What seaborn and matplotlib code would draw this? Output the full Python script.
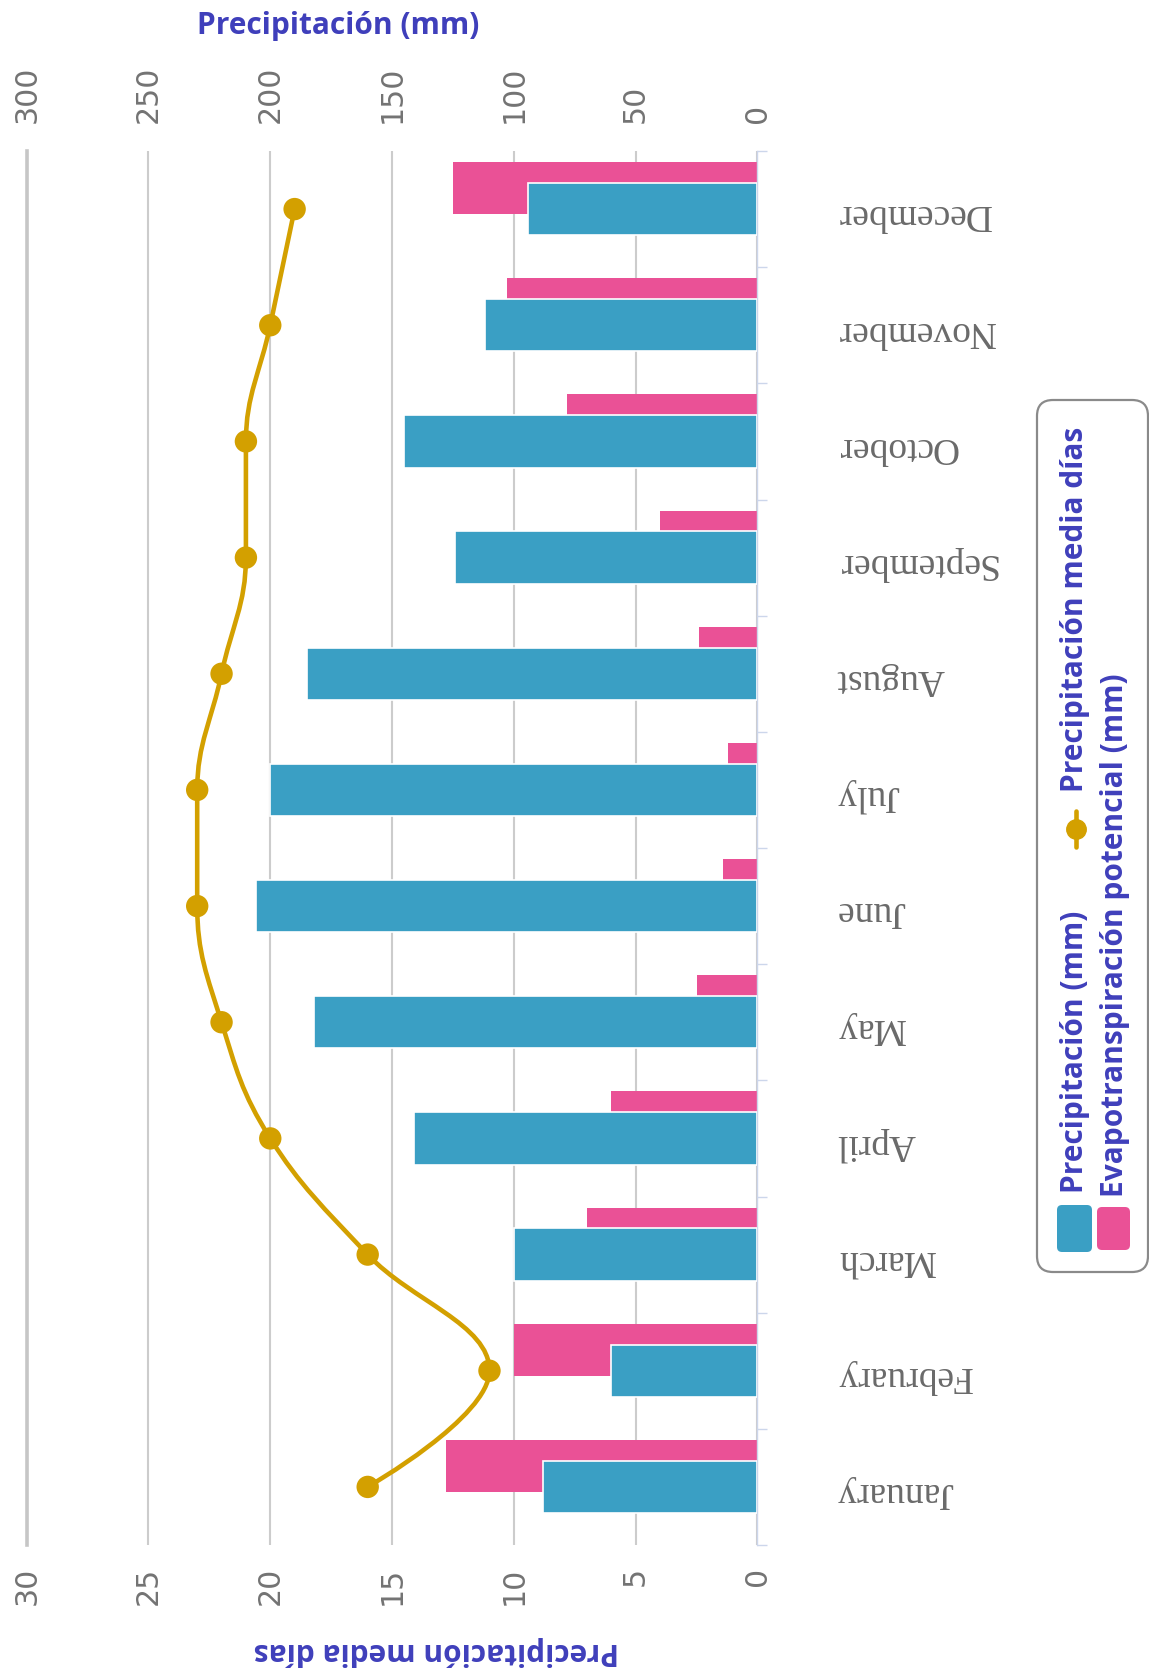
import numpy as np
import pandas as pd
import matplotlib
matplotlib.use("Agg")
import matplotlib.pyplot as plt
import matplotlib.transforms as mtransforms
from matplotlib.path import Path
from matplotlib.patches import PathPatch, FancyBboxPatch
import seaborn as sns

# ---- data -------------------------------------------------------------
months = ["January", "February", "March", "April", "May", "June",
          "July", "August", "September", "October", "November", "December"]
precip_mm = [88, 60, 100, 141, 182, 206, 200, 185, 124, 145, 112, 94]
evapo_mm = [128, 100, 70, 60, 25, 14, 12, 24, 40, 78, 103, 125]
rain_days = [16, 11, 16, 20, 22, 23, 23, 22, 21, 21, 20, 19]
mm_ticks = [0, 50, 100, 150, 200, 250, 300]
day_ticks = [0, 5, 10, 15, 20, 25, 30]

# ---- style ------------------------------------------------------------
BLUE = "#3a9fc4"
PINK = "#ea5196"
GOLD = "#d3a000"
TXT_BLUE = "#3f3fbb"
TICK_GREY = "#737373"
GRID = "#cccccc"

sns.set_theme(style="white")
plt.rcParams["font.family"] = ["DejaVu Sans"]

W, H = 1149, 1677
fig = plt.figure(figsize=(W / 100, H / 100), dpi=100)

# plot area in pixels: x 27..757, y 151..1545
ax = fig.add_axes([26.7 / W, 1 - 1545 / H, (757.4 - 26.7) / W, (1545 - 151) / H])
ax2 = ax.twiny()

df = pd.DataFrame({
    "month": months,
    "pos": np.arange(len(months)),
    "precip": precip_mm,
    "evapo": evapo_mm,
    "days": rain_days,
})

# evapotranspiration bars sit slightly above and behind the precipitation bars
sns.barplot(x=df["evapo"], y=df["pos"] + 0.18, orient="h", native_scale=True,
            width=0.45, color=PINK, saturation=1, errorbar=None,
            linewidth=0, ax=ax, zorder=2)
sns.barplot(x=df["precip"], y=df["pos"], orient="h", native_scale=True,
            width=0.45, color=BLUE, saturation=1, errorbar=None,
            edgecolor="white", linewidth=1.2, ax=ax, zorder=3)

ax.set_xlim(300, 0)
ax.set_ylim(-0.5, 11.5)
ax.set_xlabel("")
ax.set_ylabel("")

# mm axis on top
ax.xaxis.tick_top()
ax.set_xticks(mm_ticks)
ax.set_xticklabels([str(t) for t in mm_ticks], rotation=90,
                   fontsize=21.6, color=TICK_GREY)
ax.tick_params(axis="x", which="major", length=0, pad=20,
               top=True, bottom=False, labeltop=True, labelbottom=False)
ax.set_axisbelow(True)
ax.grid(axis="x", color=GRID, linewidth=1.5)
ax.grid(axis="y", visible=False)

# category boundary ticks on the right
ax.yaxis.tick_right()
ax.set_yticks(df["pos"])
ax.set_yticklabels([])
ax.set_yticks(np.arange(-0.5, 12, 1), minor=True)
ax.tick_params(axis="y", which="major", length=0)
ax.tick_params(axis="y", which="minor", length=7, width=1, color="#ccd6eb",
               direction="out", right=True, left=False)

# month labels on the right, upside down
lab_tr = mtransforms.offset_copy(
    mtransforms.blended_transform_factory(ax.transAxes, ax.transData),
    fig=fig, x=57, y=-4, units="points")
for p, m in zip(df["pos"], df["month"]):
    ax.text(1.0, p, m, transform=lab_tr, rotation=180, ha="left", va="center",
            fontfamily="Liberation Serif", fontsize=27, color="#6a6a6a")

for side in ("top", "bottom"):
    ax.spines[side].set_visible(False)
ax.spines["left"].set_color("#c6c6c6")
ax.spines["left"].set_linewidth(2.6)
ax.spines["right"].set_color("#ccd6eb")
ax.spines["right"].set_linewidth(1)

# rain-days axis on the bottom
ax2.set_xlim(30, 0)
ax2.xaxis.tick_bottom()
ax2.set_xticks(day_ticks)
ax2.set_xticklabels([str(t) for t in day_ticks], rotation=90,
                    fontsize=21.6, color=TICK_GREY)
ax2.tick_params(axis="x", length=0, pad=16, top=False, bottom=True,
                labeltop=False, labelbottom=True)
for s in ax2.spines.values():
    s.set_visible(False)
ax2.grid(False)


def spline_path(xs, ys, smoothing=1.5):
    """Cubic Bezier spline through the points (Highcharts-style smoothing)."""
    n = len(xs)
    left = [(xs[i], ys[i]) for i in range(n)]
    right = [(xs[i], ys[i]) for i in range(n)]
    denom = smoothing + 1
    for i in range(1, n - 1):
        x, y = xs[i], ys[i]
        lx = (smoothing * x + xs[i - 1]) / denom
        ly = (smoothing * y + ys[i - 1]) / denom
        rx = (smoothing * x + xs[i + 1]) / denom
        ry = (smoothing * y + ys[i + 1]) / denom
        corr = 0.0
        if rx != lx:
            corr = ((ry - ly) * (rx - x)) / (rx - lx) + y - ry
        ly += corr
        ry += corr
        py, ny = ys[i - 1], ys[i + 1]
        if ly > py and ly > y:
            ly = max(py, y)
            ry = 2 * y - ly
        elif ly < py and ly < y:
            ly = min(py, y)
            ry = 2 * y - ly
        if ry > ny and ry > y:
            ry = max(ny, y)
            ly = 2 * y - ry
        elif ry < ny and ry < y:
            ry = min(ny, y)
            ly = 2 * y - ry
        left[i] = (lx, ly)
        right[i] = (rx, ry)
    verts = [(xs[0], ys[0])]
    codes = [Path.MOVETO]
    for i in range(1, n):
        verts += [right[i - 1], left[i], (xs[i], ys[i])]
        codes += [Path.CURVE4] * 3
    return verts, codes


pos = list(df["pos"].astype(float))
days = list(df["days"].astype(float))
v, c = spline_path(pos, days)
v = [(b, a) for a, b in v]  # (days, position)
ax2.add_patch(PathPatch(Path(v, c), facecolor="none", edgecolor=GOLD,
                        linewidth=3.3, capstyle="round", zorder=4))
sns.scatterplot(x=df["days"], y=df["pos"], ax=ax2, s=260, color=GOLD,
                edgecolor="none", linewidth=0, zorder=5, legend=False)
ax2.set_xlabel("")
ax2.set_ylabel("")
ax2.set_xlim(30, 0)
ax.set_ylim(-0.5, 11.5)

# ---- titles and legend (pixel overlay) --------------------------------
lax = fig.add_axes([0, 0, 1, 1])
lax.set_xlim(0, W)
lax.set_ylim(H, 0)
lax.axis("off")
lax.patch.set_visible(False)

bold = dict(fontfamily="Open Sans", fontweight="bold", color=TXT_BLUE,
            fontsize=21.5)
lax.text(338, 26, "Precipitación (mm)", ha="center", va="center", **bold)
lax.text(436, 1651, "Precipitación media días", rotation=180,
         ha="center", va="center", **bold)

lax.add_patch(FancyBboxPatch((1037, 400), 111, 872,
                             boxstyle="round,pad=0,rounding_size=16",
                             facecolor="white", edgecolor="#8a8a8a",
                             linewidth=1.6))
lax.add_patch(FancyBboxPatch((1057, 1205), 35, 47,
                             boxstyle="round,pad=0,rounding_size=5",
                             facecolor=BLUE, edgecolor="none"))
lax.add_patch(FancyBboxPatch((1097, 1207), 33, 43,
                             boxstyle="round,pad=0,rounding_size=5",
                             facecolor=PINK, edgecolor="none"))
lax.plot([1076, 1076], [811, 847], color=GOLD, linewidth=3.3)
lax.plot([1076], [829], marker="o", markersize=14, color=GOLD)

lax.text(1075, 1193, "Precipitación (mm)", rotation=90,
         ha="center", va="bottom", **bold)
lax.text(1075, 792, "Precipitación media días", rotation=90,
         ha="center", va="bottom", **bold)
lax.text(1115, 1197, "Evapotranspiración potencial (mm)", rotation=90,
         ha="center", va="bottom", **bold)

fig.savefig("out.png", dpi=100)
